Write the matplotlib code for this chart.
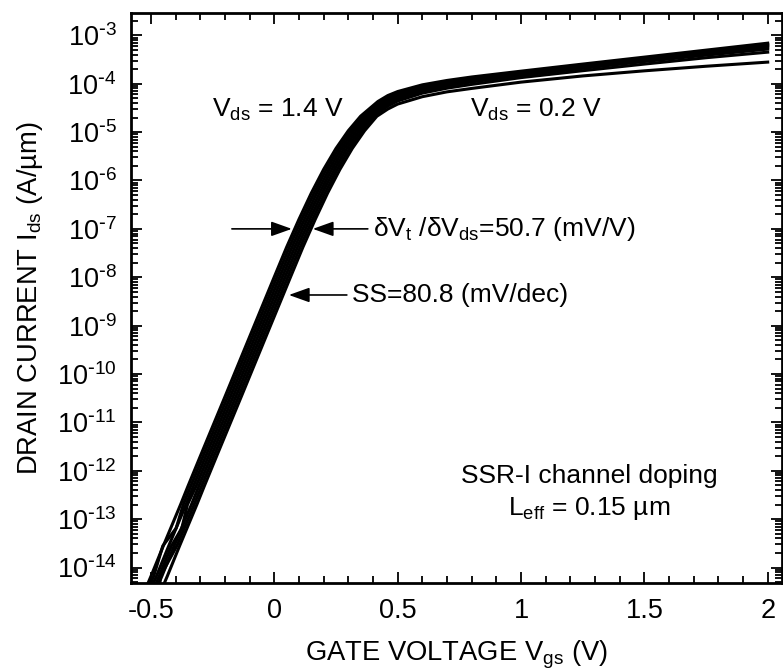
import numpy as np
import matplotlib
matplotlib.use("Agg")
import matplotlib.pyplot as plt
from matplotlib.ticker import MultipleLocator, LogLocator, NullFormatter, FuncFormatter

plt.rcParams.update({
    "font.family": ["Liberation Sans", "DejaVu Sans"],
    "font.size": 19,
    "mathtext.default": "regular",
    "axes.unicode_minus": False,
})

VDS = [0.2, 0.4, 0.6, 0.8, 1.0, 1.2, 1.4]

# subthreshold branch: same current levels, gate voltage moves with drain bias (DIBL)
IDS_SUB = [3.8e-15, 6.6e-15, 2.8e-14, 6.5e-14, 2.0e-13, 4.8e-13, 2.0e-12, 3.4e-11, 5.9e-10,
           1.02e-8, 4.2e-8, 1.58e-7, 5.5e-7, 1.7e-6, 4.6e-6, 1.07e-5, 2.14e-5]
VGS_SUB_14 = [-0.52, -0.5, -0.45, -0.42, -0.38, -0.35, -0.3, -0.2, -0.1, 0.0, 0.05, 0.1, 0.15,
              0.2, 0.25, 0.3, 0.35]
VGS_SUB_12 = [-0.509, -0.489, -0.452, -0.398, -0.369, -0.339, -0.289, -0.189, -0.089, 0.011, 0.061,
              0.111, 0.161, 0.211, 0.261, 0.311, 0.361]
VGS_SUB_10 = [-0.498, -0.478, -0.428, -0.398, -0.358, -0.328, -0.278, -0.178, -0.078, 0.022, 0.072,
              0.122, 0.172, 0.222, 0.272, 0.322, 0.372]
VGS_SUB_08 = [-0.487, -0.467, -0.417, -0.375, -0.352, -0.317, -0.267, -0.167, -0.067, 0.033, 0.083,
              0.133, 0.183, 0.233, 0.283, 0.333, 0.383]
VGS_SUB_06 = [-0.476, -0.456, -0.406, -0.376, -0.336, -0.306, -0.256, -0.156, -0.056, 0.044, 0.094,
              0.144, 0.194, 0.244, 0.294, 0.344, 0.394]
VGS_SUB_04 = [-0.465, -0.462, -0.395, -0.365, -0.325, -0.295, -0.245, -0.145, -0.045, 0.055, 0.105,
              0.155, 0.205, 0.255, 0.305, 0.355, 0.405]
VGS_SUB_02 = [-0.454, -0.434, -0.384, -0.354, -0.314, -0.284, -0.234, -0.134, -0.034, 0.066, 0.116,
              0.166, 0.216, 0.266, 0.316, 0.366, 0.416]

# above threshold: common gate voltages, currents split by drain bias
VGS_ON = [0.42, 0.46, 0.5, 0.6, 0.7, 0.8, 1.0, 1.25, 1.5, 1.75, 2.0]
IDS_ON_14 = [4.3e-5, 5.7e-5, 6.9e-5, 9.5e-5, 1.17e-4, 1.38e-4, 1.82e-4, 2.55e-4, 3.55e-4, 4.95e-4, 6.9e-4]
IDS_ON_12 = [3.9e-5, 5.2e-5, 6.4e-5, 8.9e-5, 1.1e-4, 1.31e-4, 1.74e-4, 2.45e-4, 3.4e-4, 4.7e-4, 6.5e-4]
IDS_ON_10 = [3.5e-5, 4.75e-5, 5.9e-5, 8.3e-5, 1.04e-4, 1.24e-4, 1.66e-4, 2.34e-4, 3.25e-4, 4.45e-4, 6.1e-4]
IDS_ON_08 = [3.15e-5, 4.3e-5, 5.4e-5, 7.7e-5, 9.7e-5, 1.17e-4, 1.58e-4, 2.22e-4, 3.08e-4, 4.2e-4, 5.7e-4]
IDS_ON_06 = [2.8e-5, 3.85e-5, 4.9e-5, 7.1e-5, 9.0e-5, 1.09e-4, 1.49e-4, 2.08e-4, 2.88e-4, 3.9e-4, 5.2e-4]
IDS_ON_04 = [2.5e-5, 3.45e-5, 4.4e-5, 6.4e-5, 8.1e-5, 9.7e-5, 1.34e-4, 1.86e-4, 2.55e-4, 3.45e-4, 4.5e-4]
IDS_ON_02 = [2.2e-5, 3.0e-5, 3.8e-5, 5.4e-5, 6.8e-5, 8.0e-5, 1.08e-4, 1.45e-4, 1.85e-4, 2.3e-4, 2.8e-4]

VGS_SUB = [VGS_SUB_02, VGS_SUB_04, VGS_SUB_06, VGS_SUB_08, VGS_SUB_10, VGS_SUB_12, VGS_SUB_14]
IDS_ON = [IDS_ON_02, IDS_ON_04, IDS_ON_06, IDS_ON_08, IDS_ON_10, IDS_ON_12, IDS_ON_14]

X_MAJOR = [-0.5, 0, 0.5, 1, 1.5, 2]
X_TICKLABELS = ["-0.5", "0", "0.5", "1", "1.5", "2"]
Y_MAJOR = [1e-14, 1e-13, 1e-12, 1e-11, 1e-10, 1e-9, 1e-8, 1e-7, 1e-6, 1e-5, 1e-4, 1e-3]


def decade_label(v, pos):
    # 10^n with a plain hyphen in the exponent
    n = int(round(np.log10(v)))
    exp = f"\\text{{-}}{-n}" if n < 0 else f"{n}"
    return f"$10^{{{exp}}}$"


W, H = 783, 671
fig = plt.figure(figsize=(W / 100, H / 100), dpi=100)
ax = fig.add_axes([130.5 / W, 1 - 582.5 / H, (782.5 - 130.5) / W, (582.5 - 13) / H])

for vds, vg_sub, ids_on in zip(VDS, VGS_SUB, IDS_ON):
    ax.plot(vg_sub + VGS_ON, IDS_SUB + ids_on, color="black", lw=2.2,
            solid_joinstyle="round", label=f"Vds={vds}")

ax.set_yscale("log")
ax.set_xlim(-0.583, 2.06)
ax.set_ylim(4.9e-15, 2.9e-3)

ax.xaxis.set_minor_locator(MultipleLocator(0.1))
ax.set_xticks(X_MAJOR)
ax.set_xticklabels(X_TICKLABELS)
ax.set_yticks(Y_MAJOR)
ax.yaxis.set_major_formatter(FuncFormatter(decade_label))
ax.yaxis.set_minor_locator(LogLocator(base=10, subs=range(2, 10), numticks=30))
ax.yaxis.set_minor_formatter(NullFormatter())

ax.tick_params(which="both", direction="in", top=True, right=True, width=1.3, labelsize=19.5)
ax.tick_params(which="major", length=8)
ax.tick_params(which="minor", length=5)
ax.tick_params(axis="x", pad=11)
ax.tick_params(axis="y", pad=10)
for sp in ax.spines.values():
    sp.set_linewidth(2)

ax.set_xlabel("GATE VOLTAGE $V_{gs}$ (V)", fontsize=19.7, labelpad=11)
ax.set_ylabel("DRAIN CURRENT $I_{ds}$ (A/µm)", fontsize=19.7, labelpad=8.5)

arrow = dict(arrowstyle="-|>,head_length=0.7,head_width=0.25", color="black",
             lw=1.2, mutation_scale=18, shrinkA=0, shrinkB=0)
ax.annotate("", xy=(0.071, 1e-7), xytext=(-0.172, 1e-7), arrowprops=arrow)
ax.annotate("", xy=(0.156, 1e-7), xytext=(0.379, 1e-7), arrowprops=arrow)
ax.annotate("", xy=(0.059, 4.3e-9), xytext=(0.294, 4.3e-9), arrowprops=arrow)

ax.text(0.40, 1e-7, "δ$V_t$ /δ$V_{ds}$=50.7 (mV/V)", va="center")
ax.text(0.314, 4.3e-9, "SS=80.8 (mV/dec)", va="center")
ax.text(-0.253, 2.1e-5, "$V_{ds}$ = 1.4 V", va="baseline")
ax.text(0.795, 2.1e-5, "$V_{ds}$ = 0.2 V", va="baseline")
ax.text(1.275, 5.7e-13, "SSR-I channel doping", ha="center", va="baseline")
ax.text(1.275, 1.23e-13, "$L_{eff}$ = 0.15 µm", ha="center", va="baseline")

fig.savefig("out.png", dpi=100)
